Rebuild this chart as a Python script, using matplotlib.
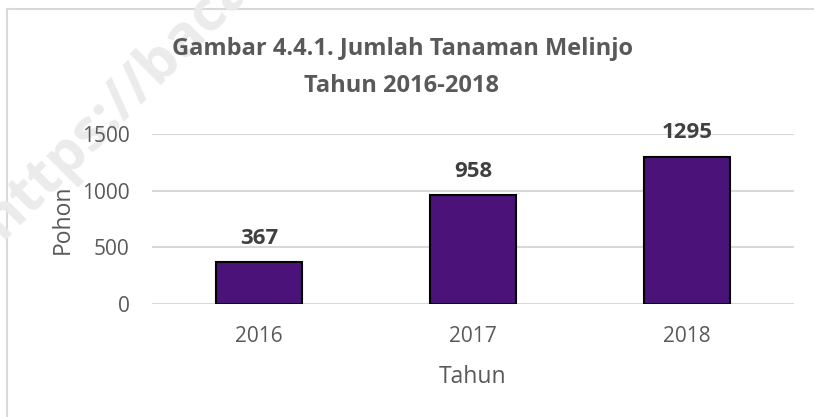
import matplotlib
matplotlib.use('Agg')
import matplotlib.pyplot as plt
from matplotlib.lines import Line2D

# data
years = ['2016', '2017', '2018']
pohon = [367, 958, 1295]
y_ticks = [0, 500, 1000, 1500]

plt.rcParams['font.family'] = ['Open Sans', 'DejaVu Sans']

fig = plt.figure(figsize=(8.14, 4.17), dpi=100)
ax = fig.add_axes([152/814, 1 - 304/417, 642/814, 170/417])
ax.set_zorder(1)

# watermark behind everything
fig.text(2/814, 1 - 240/417, 'https://baca', rotation=45, fontsize=42,
         fontweight='bold', color='#ebebeb', ha='left', va='baseline',
         rotation_mode='anchor', zorder=-1)

# chart border (only left/top visible)
fig.add_artist(Line2D([7/814, 7/814], [0, 1 - 9/417], color='#d9d9d9', lw=1.5, zorder=-2))
fig.add_artist(Line2D([7/814, 1], [1 - 9/417, 1 - 9/417], color='#d9d9d9', lw=1.5, zorder=-2))

x = range(len(years))
bars = ax.bar(x, pohon, width=0.40, color='#4b137a', edgecolor='black', linewidth=1.5, zorder=3)

for xi, v in zip(x, pohon):
    ax.annotate(str(v), (xi, v), xytext=(0, 10), textcoords='offset points',
                ha='center', va='bottom', fontsize=16, fontweight='bold', color='#404040')

ax.set_xlim(-0.5, 2.5)
ax.set_ylim(0, 1500)
ax.set_yticks(y_ticks)
ax.set_xticks(list(x))
ax.set_xticklabels(years)
ax.tick_params(length=0, labelsize=15, colors='#595959')
ax.tick_params(axis='y', pad=16)
ax.tick_params(axis='x', pad=16)
ax.grid(axis='y', color='#d9d9d9', lw=1.5, zorder=0)
for s in ax.spines.values():
    s.set_visible(False)
ax.patch.set_alpha(0)

ax.set_xlabel('Tahun', fontsize=16.5, color='#595959', labelpad=13)
ax.set_ylabel('Pohon', fontsize=16.5, color='#595959', labelpad=5)

fig.text(402/814, 1 - 49/417, 'Gambar 4.4.1. Jumlah Tanaman Melinjo', ha='center', va='center',
         fontsize=17, fontweight='bold', color='#595959')
fig.text(402/814, 1 - 86/417, 'Tahun 2016-2018', ha='center', va='center',
         fontsize=17, fontweight='bold', color='#595959')

fig.savefig('out.png', dpi=100)
